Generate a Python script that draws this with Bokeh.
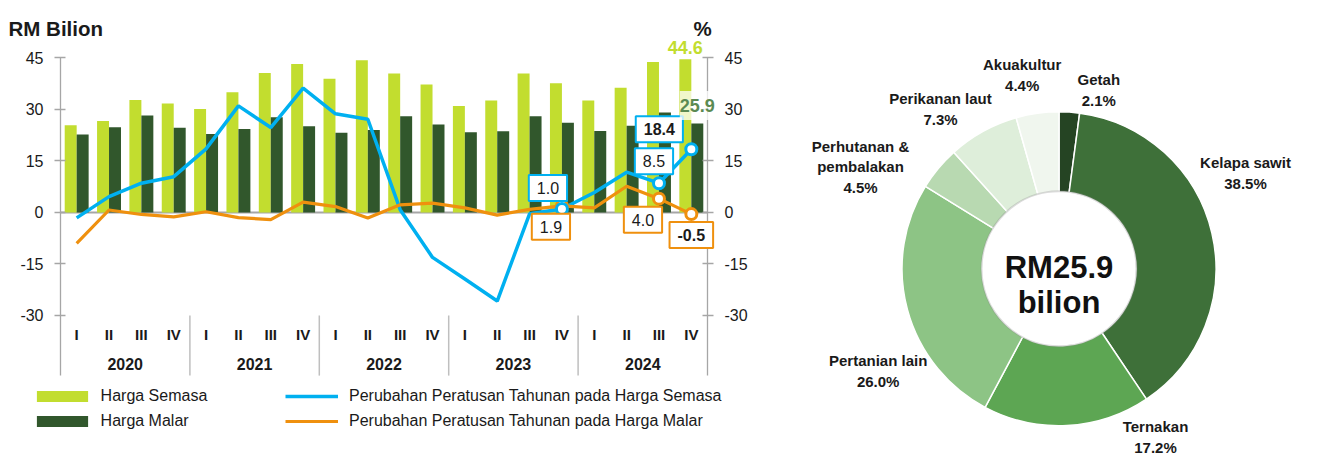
import math
from bokeh.plotting import figure
from bokeh.models import (ColumnDataSource, Range1d, LinearAxis, FixedTicker,
                          Label, Legend, LegendItem)
from bokeh.core.properties import value
from bokeh.embed import file_html
from bokeh.resources import INLINE

# ---------------- data ----------------
years = ["2020", "2021", "2022", "2023", "2024"]
quarters = ["I", "II", "III", "IV"]
harga_semasa = [25.4, 26.6, 32.7, 31.7, 30.1, 35.0, 40.6, 43.2, 38.9, 44.3,
                40.4, 37.2, 31.0, 32.6, 40.4, 37.6, 32.6, 36.3, 43.8, 44.6]
harga_malar = [22.7, 24.8, 28.2, 24.6, 22.8, 24.3, 27.7, 25.1, 23.2, 24.0,
               28.0, 25.6, 23.3, 23.6, 28.0, 26.1, 23.7, 25.2, 29.1, 25.9]
pct_semasa = [-1.6, 4.6, 8.5, 10.4, 18.5, 31.0, 24.7, 36.2, 28.7, 27.1,
              0.8, -13.1, -19.4, -25.8, -0.4, 1.0, 5.8, 11.7, 8.5, 18.4]
pct_malar = [-9.0, 0.7, -0.6, -1.3, 0.2, -1.5, -2.1, 3.0, 1.7, -1.6,
             2.2, 2.7, 1.3, -0.8, 0.9, 1.9, 1.3, 7.6, 4.0, -0.5]
highlight_idx = [15, 18, 19]
y_ticks = [-30, -15, 0, 15, 30, 45]

sectors = ["Getah", "Kelapa sawit", "Ternakan", "Pertanian lain",
           "Perhutanan &\npembalakan", "Perikanan laut", "Akuakultur"]
shares = [2.1, 38.5, 17.2, 26.0, 4.5, 7.3, 4.4]
total_value = 25.9

# ---------------- styles / layout ----------------
FONT = "Liberation Sans"
LIGHT = "#C2DD2F"
DARK = "#31572C"
BLUE = "#00B0F0"
ORANGE = "#EF900E"
AXIS_GREY = "#A6A6A6"
TXT = "#1a1a1a"
slice_colors = ["#254423", "#3E7039", "#5DA653", "#8DC485", "#B8D9B1", "#DEEEDA", "#F0F6EE"]

W, H = 1322, 460
PLOT_LEFT, CAT_W = 60.0, 32.35      # page x of first category edge, px per category
ZERO_Y, UNIT = 211.9, 3.436         # page y of value 0, px per unit
Y_BOTTOM = -47.5                    # bottom of category strip
BAR_OFF, BAR_W = 0.185, 0.37

n = len(harga_semasa)
xc = [i + 0.5 for i in range(n)]

p = figure(width=W, height=H,
           x_range=Range1d(-PLOT_LEFT / CAT_W, (W - PLOT_LEFT) / CAT_W),
           y_range=Range1d(-(H - ZERO_Y) / UNIT, ZERO_Y / UNIT),
           output_backend="svg", toolbar_location=None, title=None,
           x_axis_location=None, y_axis_location=None, min_border=0)
p.extra_x_ranges = {"px": Range1d(0, W)}
p.extra_y_ranges = {"py": Range1d(0, H)}
p.outline_line_color = None
p.grid.visible = False

ticker = FixedTicker(ticks=y_ticks)
laxis = LinearAxis(fixed_location=0)
raxis = LinearAxis(fixed_location=n)
p.add_layout(laxis, "left")
p.add_layout(raxis, "right")
for ax in [laxis, raxis]:
    ax.ticker = ticker
    ax.bounds = (Y_BOTTOM, max(y_ticks))
    ax.major_label_overrides = {t: str(t) for t in y_ticks}
    ax.axis_line_color = AXIS_GREY
    ax.axis_line_width = 1.3
    ax.major_tick_line_color = AXIS_GREY
    ax.major_tick_line_width = 1.3
    ax.major_tick_out = 6
    ax.major_tick_in = 5
    ax.minor_tick_line_color = None
    ax.major_label_text_font = FONT
    ax.major_label_text_font_size = "16px"
    ax.major_label_text_color = TXT
    ax.major_label_standoff = 11

# zero line
p.segment(x0=[0], x1=[n], y0=[0], y1=[0], line_color=AXIS_GREY, line_width=2)

src = ColumnDataSource(dict(xl=[x - BAR_OFF for x in xc], xd=[x + BAR_OFF for x in xc], x=xc,
                            semasa=harga_semasa, malar=harga_malar, ps=pct_semasa, pm=pct_malar))
r_light = p.vbar(x="xl", top="semasa", width=BAR_W, fill_color=LIGHT, line_color=None, source=src)
r_dark = p.vbar(x="xd", top="malar", width=BAR_W, fill_color=DARK, line_color=None, source=src)
r_blue = p.line("x", "ps", line_color=BLUE, line_width=3.5, source=src)
r_orange = p.line("x", "pm", line_color=ORANGE, line_width=3.2, source=src)

hsrc = ColumnDataSource(dict(x=[xc[i] for i in highlight_idx],
                             ps=[pct_semasa[i] for i in highlight_idx],
                             pm=[pct_malar[i] for i in highlight_idx]))
p.scatter("x", "pm", marker="circle", size=11, fill_color="white", line_color=ORANGE,
          line_width=3, source=hsrc)
p.scatter("x", "ps", marker="circle", size=11, fill_color="white", line_color=BLUE,
          line_width=3, source=hsrc)

# callout boxes (offsets in screen px from their point)
callouts = [
    (15, pct_semasa, BLUE, -14, 21, "normal"),
    (15, pct_malar, ORANGE, -11, -21, "normal"),
    (18, pct_semasa, BLUE, -5, 22, "normal"),
    (19, pct_semasa, BLUE, -32, 20, "bold"),
    (18, pct_malar, ORANGE, -16, -21, "normal"),
    (19, pct_malar, ORANGE, 0, -21, "bold"),
]
for i, series, col, dx, dy, style in callouts:
    p.add_layout(Label(x=xc[i], y=series[i], text=f"{series[i]:.1f}",
                       x_offset=dx, y_offset=dy, text_align="center", text_baseline="middle",
                       text_font=FONT, text_font_size="16px", text_font_style=style,
                       text_color=TXT, border_line_color=col, border_line_width=2,
                       background_fill_color="white", padding=(8, 7)))

last = n - 1
p.add_layout(Label(x=xc[last] - BAR_OFF, y=harga_semasa[last], text=f"{harga_semasa[last]:.1f}",
                   y_offset=12, text_align="center", text_baseline="middle",
                   text_font=FONT, text_font_size="18px", text_font_style="bold",
                   text_color=LIGHT))
p.add_layout(Label(x=xc[last] + BAR_OFF, y=harga_malar[last], text=f"{harga_malar[last]:.1f}",
                   y_offset=18, text_align="center", text_baseline="middle",
                   text_font=FONT, text_font_size="18px", text_font_style="bold",
                   text_color="#5B8A52", background_fill_color="white",
                   background_fill_alpha=0.75, padding=(0, 8)))

# category strip
p.text(x=xc, y=[-35.4] * n, text=[quarters[i % len(quarters)] for i in range(n)],
       text_align="center", text_baseline="middle", text_font=value(FONT),
       text_font_size="15px", text_font_style="bold", text_color=TXT)
year_x = [len(quarters) * (k + 0.5) for k in range(len(years))]
p.text(x=year_x, y=[-44.1] * len(years), text=years,
       text_align="center", text_baseline="middle", text_font=value(FONT),
       text_font_size="16px", text_font_style="bold", text_color=TXT)
seps = [len(quarters) * k for k in range(1, len(years))]
p.segment(x0=seps, x1=seps, y0=[min(y_ticks)] * len(seps), y1=[Y_BOTTOM] * len(seps),
          line_color="#BFBFBF", line_width=1.5)

# unit labels (screen units, y from bottom)
p.add_layout(Label(x=8, y=H - 28.3, x_units="screen", y_units="screen", text="RM Bilion",
                   text_font=FONT, text_font_size="20.5px", text_font_style="bold",
                   text_color=TXT, text_baseline="alphabetic"))
p.add_layout(Label(x=693, y=H - 28.3, x_units="screen", y_units="screen", text="%",
                   text_font=FONT, text_font_size="20.5px", text_font_style="bold",
                   text_color=TXT, text_baseline="alphabetic"))

common = dict(orientation="vertical", spacing=0, padding=0, margin=0,
              border_line_color=None, background_fill_alpha=0,
              label_text_font=FONT, label_text_font_size="16px", label_text_color=TXT,
              label_height=25, glyph_height=14)
leg1 = Legend(items=[LegendItem(label="Harga Semasa", renderers=[r_light]),
                     LegendItem(label="Harga Malar", renderers=[r_dark])],
              location=(29.6, H - 433.8), glyph_width=64, label_standoff=7, **common)
leg2 = Legend(items=[LegendItem(label="Perubahan Peratusan Tahunan pada Harga Semasa", renderers=[r_blue]),
                     LegendItem(label="Perubahan Peratusan Tahunan pada Harga Malar", renderers=[r_orange])],
              location=(285, H - 433.8), glyph_width=53, label_standoff=11, **common)
p.add_layout(leg1)
p.add_layout(leg2)

# ---------------- donut (pixel ranges; y measured up from bottom) ----------------
cx, cy = 1058.5, H - 268.3
cum = [0]
for s in shares:
    cum.append(cum[-1] + s)
tot = cum[-1]
starts = [math.pi / 2 - 2 * math.pi * cum[i + 1] / tot for i in range(len(shares))]
ends = [math.pi / 2 - 2 * math.pi * cum[i] / tot for i in range(len(shares))]
dsrc = ColumnDataSource(dict(start=starts, end=ends, color=slice_colors))
p.annular_wedge(x=cx, y=cy, inner_radius=77, outer_radius=157, start_angle="start",
                end_angle="end", fill_color="color", line_color="white", line_width=1.5,
                source=dsrc, x_range_name="px", y_range_name="py")
p.circle(x=cx, y=cy, radius=77.5, fill_color=None, line_color="#888888", line_alpha=0.3,
         line_width=2, x_range_name="px", y_range_name="py")

label_px = [1098.3, 1245, 1155, 877.7, 860, 940, 1021.7]
label_py = [89.2, 172.5, 436.5, 370.3, 166.5, 108.2, 74.7]
label_text = [f"{nm}\n{s:.1f}%" for nm, s in zip(sectors, shares)]
p.text(x=label_px, y=[H - v for v in label_py], text=label_text,
       text_align="center", text_baseline="middle",
       text_font=value(FONT), text_font_size="15px", text_font_style="bold",
       text_color=TXT, text_line_height=1.22, x_range_name="px", y_range_name="py")
p.text(x=[cx, cx], y=[H - 266.7, H - 301.7], text=[f"RM{total_value}", "bilion"],
       text_align="center", text_baseline="alphabetic", text_font=value(FONT),
       text_font_size="31px", text_font_style="bold", text_color="#111111",
       x_range_name="px", y_range_name="py")

open("out.html", "w").write(file_html(p, INLINE))
